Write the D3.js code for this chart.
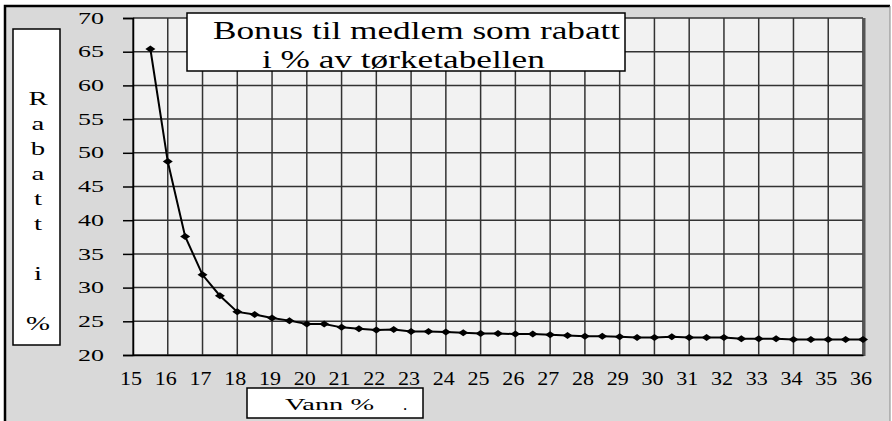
<!DOCTYPE html>
<html>
<head>
<script src="https://cdn.jsdelivr.net/npm/d3@7"></script>
</head>
<body style="margin:0">
<script>
// Vann % (x) and rabatt i % (y)
const vann = [15.5, 16, 16.5, 17, 17.5, 18, 18.5, 19, 19.5, 20,
  20.5, 21, 21.5, 22, 22.5, 23, 23.5, 24, 24.5, 25,
  25.5, 26, 26.5, 27, 27.5, 28, 28.5, 29, 29.5, 30,
  30.5, 31, 31.5, 32, 32.5, 33, 33.5, 34, 34.5, 35,
  35.5, 36];
const rabatt = [65.4, 48.7, 37.6, 31.9, 28.8, 26.4, 26.0, 25.5, 25.1, 24.6,
  24.6, 24.1, 23.9, 23.7, 23.8, 23.5, 23.5, 23.4, 23.3, 23.2,
  23.2, 23.1, 23.1, 23.0, 22.9, 22.8, 22.8, 22.7, 22.6, 22.6,
  22.7, 22.6, 22.6, 22.6, 22.4, 22.4, 22.4, 22.3, 22.3, 22.3,
  22.3, 22.3];
const xTicks = [15, 16, 17, 18, 19, 20, 21, 22, 23, 24, 25, 26, 27, 28, 29, 30, 31, 32, 33, 34, 35, 36];
const yTicks = [20, 25, 30, 35, 40, 45, 50, 55, 60, 65, 70];
const titleLines = ["Bonus til medlem som rabatt", "i % av tørketabellen"];
const yTitle = ["R", "a", "b", "a", "t", "t", "", "i", "", "%"];

const width = 892;
const height = 421;
const serif = "'Liberation Serif'";

const svg = d3.select("body").append("svg").attr("width", width).attr("height", height);

// outer gray chart area
svg.append("rect").attr("x", 5).attr("y", 6).attr("width", 885).attr("height", 420)
  .attr("fill", "#d9d9d9");
svg.append("path").attr("d", "M5,421V6H890").attr("fill", "none").attr("stroke", "#000").attr("stroke-width", 2.5);
svg.append("line").attr("x1", 890).attr("x2", 890).attr("y1", 6).attr("y2", 421)
  .attr("stroke", "#888").attr("stroke-width", 1);

const x = d3.scaleLinear().domain([15, 36]).range([133, 863]);
const y = d3.scaleLinear().domain([20, 70]).range([355, 18]);

// plot area
svg.append("rect").attr("x", x(15)).attr("y", y(70))
  .attr("width", x(36) - x(15)).attr("height", y(20) - y(70)).attr("fill", "#f2f2f2");

// grid
svg.append("g").selectAll("line").data(xTicks).join("line")
  .attr("x1", d => x(d)).attr("x2", d => x(d)).attr("y1", y(70)).attr("y2", y(20))
  .attr("stroke", "#333").attr("stroke-width", 1.5);
svg.append("g").selectAll("line").data(yTicks).join("line")
  .attr("x1", x(15)).attr("x2", x(36)).attr("y1", d => y(d)).attr("y2", d => y(d))
  .attr("stroke", "#333").attr("stroke-width", 1.5);
// shaded right edge of plot
svg.append("line").attr("x1", x(36) + 1).attr("x2", x(36) + 1).attr("y1", y(70)).attr("y2", y(20) + 1)
  .attr("stroke", "#555").attr("stroke-width", 3);

// y axis: tick marks from d3, labels stretched like the original
const yAxis = svg.append("g").attr("transform", `translate(${x(15)},0)`)
  .call(d3.axisLeft(y).tickValues(yTicks).tickSize(10).tickFormat(""));
yAxis.select(".domain").attr("stroke", "#000").attr("stroke-width", 1.5);
yAxis.selectAll(".tick line").attr("stroke", "#000").attr("stroke-width", 1.5);
svg.append("g").selectAll("text").data(yTicks).join("text")
  .attr("transform", d => `translate(104,${y(d)}) scale(1.53,1)`)
  .attr("text-anchor", "end").attr("dy", "0.33em")
  .attr("font-family", serif).attr("font-size", 17).text(d => d);

// x axis
const xAxis = svg.append("g").attr("transform", `translate(0,${y(20)})`)
  .call(d3.axisBottom(x).tickValues(xTicks).tickSize(0).tickFormat(""));
xAxis.select(".domain").attr("stroke", "#000").attr("stroke-width", 1.5);
svg.append("g").selectAll("text").data(xTicks).join("text")
  .attr("transform", d => `translate(${x(d) - 2},385) scale(1.16,1)`)
  .attr("text-anchor", "middle")
  .attr("font-family", serif).attr("font-size", 19).text(d => d);

// series line and markers
const line = d3.line().x((d, i) => x(vann[i])).y(d => y(d));
svg.append("path").datum(rabatt).attr("d", line)
  .attr("fill", "none").attr("stroke", "#000").attr("stroke-width", 2);
svg.append("g").selectAll("path").data(rabatt).join("path")
  .attr("transform", (d, i) => `translate(${x(vann[i])},${y(d)})`)
  .attr("d", "M-5,0L0,-3.5L5,0L0,3.5Z").attr("fill", "#000");

// title box
svg.append("rect").attr("x", 187).attr("y", 13).attr("width", 438).attr("height", 58)
  .attr("fill", "#fff").attr("stroke", "#000").attr("stroke-width", 1.5);
const titleX = [213, 262];
const titleY = [39, 68];
svg.append("g").selectAll("text").data(titleLines).join("text")
  .attr("transform", (d, i) => `translate(${titleX[i]},${titleY[i]}) scale(1.41,1)`)
  .attr("font-family", serif).attr("font-size", 25).text(d => d);

// y title box
svg.append("rect").attr("x", 13).attr("y", 29).attr("width", 47).attr("height", 316)
  .attr("fill", "#fff").attr("stroke", "#000").attr("stroke-width", 1.5);
svg.append("g").selectAll("text").data(yTitle).join("text")
  .attr("transform", (d, i) => `translate(38,${105 + i * 25}) scale(1.6,1)`)
  .attr("text-anchor", "middle").attr("font-family", serif).attr("font-size", 18).text(d => d);

// x title box
svg.append("rect").attr("x", 247).attr("y", 388).attr("width", 176).attr("height", 30)
  .attr("fill", "#fff").attr("stroke", "#000").attr("stroke-width", 1.5);
svg.append("text").attr("transform", "translate(285,410) scale(1.67,1)")
  .attr("font-family", serif).attr("font-size", 17).text("Vann %");
svg.append("text").attr("x", 403).attr("y", 410).attr("font-family", serif).attr("font-size", 17).text(".");
</script>
</body>
</html>
